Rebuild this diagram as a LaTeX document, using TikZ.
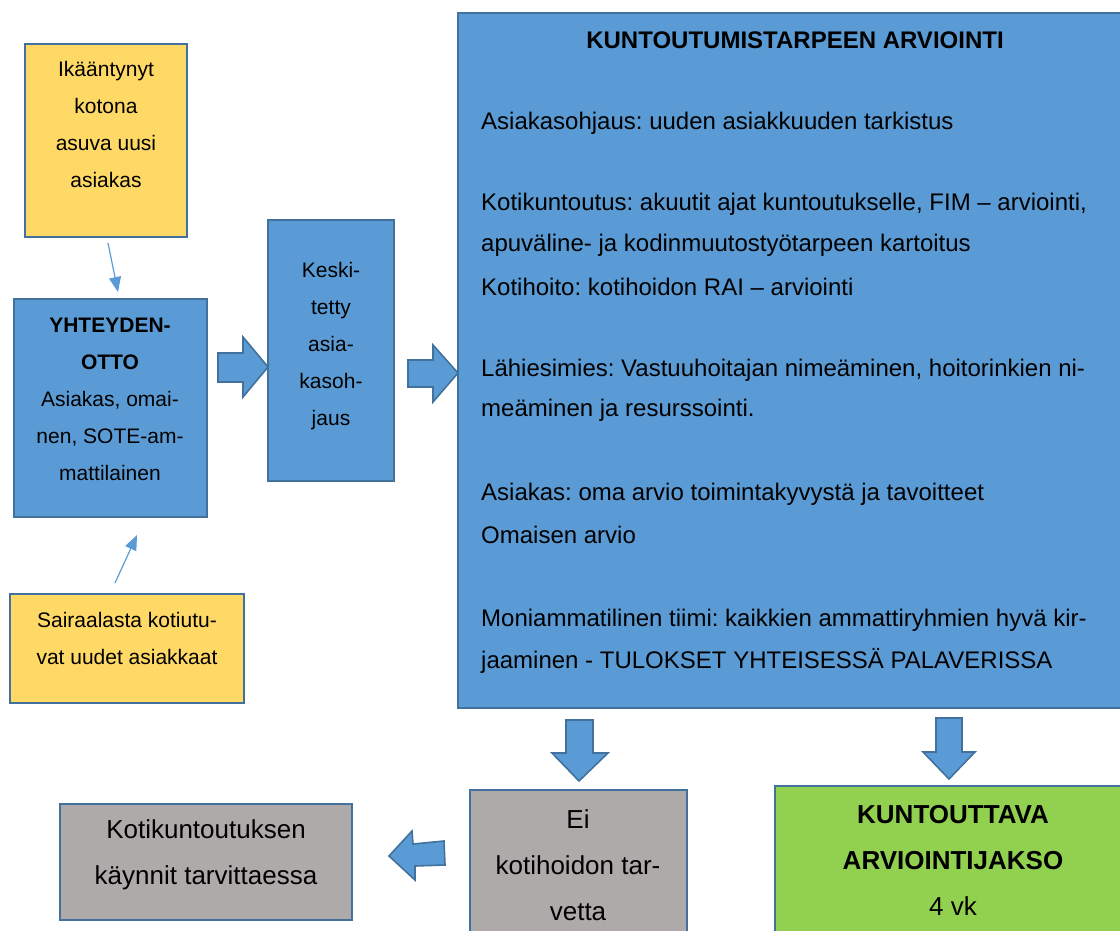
\documentclass[tikz,border=0pt]{standalone}
\usepackage{fontspec}
\setmainfont{Liberation Sans}
\usetikzlibrary{arrows.meta}
\frenchspacing
\definecolor{boxblue}{HTML}{5B9BD5}
\definecolor{edgeblue}{HTML}{41719C}
\definecolor{boxyellow}{HTML}{FFD966}
\definecolor{boxgrey}{HTML}{AEAAAA}
\definecolor{boxgreen}{HTML}{92D050}
\tikzset{
  panel/.style={draw=edgeblue, line width=2pt},
  smalltext/.style={align=center, inner sep=0pt, font=\fontsize{21}{37}\selectfont},
  bigtext/.style={align=center, inner sep=0pt, font=\fontsize{26}{46}\selectfont},
  bodyline/.style={anchor=west, inner sep=0pt, font=\fontsize{24}{30}\selectfont},
  blockarrow/.style={fill=boxblue, draw=edgeblue, line width=1.6pt, line join=miter},
  thinarrow/.style={draw=boxblue, line width=1.2pt, -{Triangle[length=15pt,width=12pt]}}
}
\begin{document}
\begin{tikzpicture}[x=1pt, y=-1pt]
\useasboundingbox (0,0) rectangle (1120,931);

% boxes
\draw[panel, fill=boxyellow] (25,44) rectangle (187,237);
\coordinate (y1s) at (108,243);
\draw[panel, fill=boxblue] (14,299) rectangle (207,517);
\coordinate (ytn) at (118,292);
\coordinate (yts) at (137,535);
\draw[panel, fill=boxyellow] (10,594) rectangle (244,703);
\coordinate (y2n) at (115,583);
\draw[panel, fill=boxblue] (268,220) rectangle (394,481);
\draw[panel, fill=boxblue] (458,13) rectangle (1130,708);
\draw[panel, fill=boxgrey] (60,804) rectangle (352,920);
\draw[panel, fill=boxgrey] (470,790) rectangle (687,940);
\draw[panel, fill=boxgreen] (775,786) rectangle (1130,940);

% thin connectors
\draw[thinarrow] (y1s) -- (ytn);
\draw[thinarrow] (y2n) -- (yts);

% block arrows
\draw[blockarrow] (218,353) -- (243,353) -- (243,337) -- (268,367) -- (243,397) -- (243,382) -- (218,382) -- cycle;
\draw[blockarrow] (408,360) -- (433,360) -- (433,345) -- (458,373) -- (433,402) -- (433,387) -- (408,387) -- cycle;
\draw[blockarrow] (566,720) -- (593,720) -- (593,753) -- (608,753) -- (579,781) -- (552,753) -- (566,753) -- cycle;
\draw[blockarrow] (936,718) -- (962,718) -- (962,752) -- (975,752) -- (949,779) -- (923,752) -- (936,752) -- cycle;
\draw[blockarrow] (389,856) -- (412,831) -- (413,844) -- (444,841) -- (445,865) -- (415,866) -- (415,880) -- cycle;

% texts of the small boxes
\node[smalltext] (t1) at (106,124) {Ikääntynyt\\kotona\\asuva uusi\\asiakas};
\node[smalltext] (t2) at (110,399) {\textbf{YHTEYDEN-}\\\textbf{OTTO}\\Asiakas, omai-\\nen, SOTE-am-\\mattilainen};
\node[smalltext] (t3) at (331,346) {Keski-\\tetty\\asia-\\kasoh-\\jaus};
\node[smalltext] (t4) at (127,638) {Sairaalasta kotiutu-\\vat uudet asiakkaat};
\node[bigtext] (t5) at (206,855) {Kotikuntoutuksen\\käynnit tarvittaessa};
\node[bigtext] (t6) at (578,865) {Ei\\kotihoidon tar-\\vetta};
\node[bigtext] (t7) at (953,860) {\textbf{KUNTOUTTAVA}\\\textbf{ARVIOINTIJAKSO}\\4 vk};

% assessment panel
\node[inner sep=0pt, font=\fontsize{24}{28}\selectfont\bfseries] (title) at (795,40) {KUNTOUTUMISTARPEEN ARVIOINTI};
\node[bodyline] (l1) at (481,123) {Asiakasohjaus: uuden asiakkuuden tarkistus};
\node[bodyline] (l2) at (481,204) {Kotikuntoutus: akuutit ajat kuntoutukselle, FIM – arviointi,};
\node[bodyline] (l3) at (481,245) {apuväline- ja kodinmuutostyötarpeen kartoitus};
\node[bodyline] (l4) at (481,287) {Kotihoito: kotihoidon RAI – arviointi};
\node[bodyline] (l5) at (481,370) {Lähiesimies: Vastuuhoitajan nimeäminen, hoitorinkien ni-};
\node[bodyline] (l6) at (481,410) {meäminen ja resurssointi.};
\node[bodyline] (l7) at (481,494) {Asiakas: oma arvio toimintakyvystä ja tavoitteet};
\node[bodyline] (l8) at (481,535) {Omaisen arvio};
\node[bodyline] (l9) at (481,620) {Moniammatilinen tiimi: kaikkien ammattiryhmien hyvä kir-};
\node[bodyline] (l10) at (481,661) {jaaminen - TULOKSET YHTEISESSÄ PALAVERISSA};
\end{tikzpicture}
\end{document}
